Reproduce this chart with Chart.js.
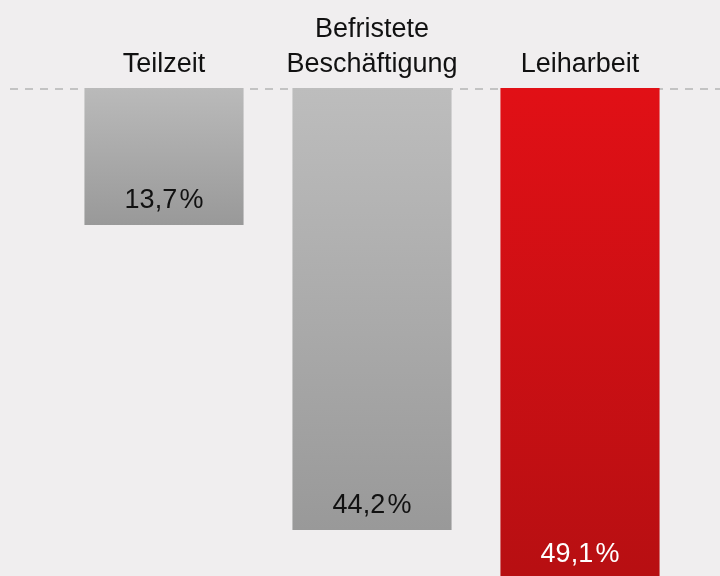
<!DOCTYPE html>
<html>
<head>
<meta charset="utf-8">
<script src="https://cdn.jsdelivr.net/npm/chart.js@4"></script>
<style>
  html, body { margin: 0; padding: 0; background: #f0eeef; }
  #wrap { width: 720px; height: 576px; }
</style>
</head>
<body>
<div id="wrap"><canvas id="grafico"></canvas></div>
<script>
const kategorien = [['Teilzeit'], ['Befristete', 'Beschäftigung'], ['Leiharbeit']];
const werte = [13.7, 44.2, 49.1];
const beschriftungen = ['13,7\u200a%', '44,2\u200a%', '49,1\u200a%'];

const farbenOben = ['#bababa', '#bdbdbd', '#e11016'];
const farbenUnten = ['#999999', '#999999', '#b70f12'];
const textFarben = ['#111111', '#111111', '#ffffff'];

// gestrichelte Nulllinie ueber die ganze Breite
const nullLinie = {
    id: 'nullLinie',
    beforeDatasetsDraw(chart) {
        const { ctx, width } = chart;
        const y = chart.scales.y.getPixelForValue(0) + 1;
        ctx.save();
        ctx.strokeStyle = '#c3c3c3';
        ctx.lineWidth = 2;
        ctx.setLineDash([8, 7]);
        ctx.beginPath();
        ctx.moveTo(10, y);
        ctx.lineTo(width, y);
        ctx.stroke();
        ctx.restore();
    }
};

// Werte unten in den Balken
const werteText = {
    id: 'werteText',
    afterDatasetsDraw(chart) {
        const { ctx } = chart;
        const meta = chart.getDatasetMeta(0);
        ctx.save();
        ctx.font = '27px "Liberation Sans", Arial, sans-serif';
        ctx.textAlign = 'center';
        ctx.textBaseline = 'alphabetic';
        meta.data.forEach((bar, i) => {
            ctx.fillStyle = textFarben[i];
            ctx.fillText(beschriftungen[i], bar.x, bar.y - 17);
        });
        ctx.restore();
    }
};

function balkenFarbe(context) {
    const chart = context.chart;
    const i = context.dataIndex;
    if (!chart.chartArea || i === undefined) return farbenOben[i] || '#bbbbbb';
    const y0 = chart.scales.y.getPixelForValue(0);
    const y1 = chart.scales.y.getPixelForValue(werte[i]);
    const g = chart.ctx.createLinearGradient(0, y0, 0, y1);
    g.addColorStop(0, farbenOben[i]);
    g.addColorStop(1, farbenUnten[i]);
    return g;
}

const grafico = document.getElementById('grafico');
new Chart(grafico, {
    type: 'bar',
    data: {
        labels: kategorien,
        datasets: [{
            data: werte,
            backgroundColor: balkenFarbe,
            borderWidth: 0,
            categoryPercentage: 1,
            barPercentage: 0.765
        }]
    },
    options: {
        responsive: true,
        maintainAspectRatio: false,
        animation: false,
        layout: {
            padding: { left: 60, right: 36, top: 0, bottom: 0 }
        },
        plugins: {
            legend: { display: false },
            tooltip: { enabled: false }
        },
        scales: {
            x: {
                position: 'top',
                afterFit(scale) { scale.height = 88; },
                grid: { display: false, drawTicks: false },
                border: { display: false },
                ticks: {
                    color: '#111111',
                    padding: 5,
                    font: { family: '"Liberation Sans", Arial, sans-serif', size: 27, lineHeight: 1.33 }
                }
            },
            y: {
                display: false,
                reverse: true,
                min: 0,
                max: 48.8
            }
        }
    },
    plugins: [nullLinie, werteText]
});
</script>
</body>
</html>
